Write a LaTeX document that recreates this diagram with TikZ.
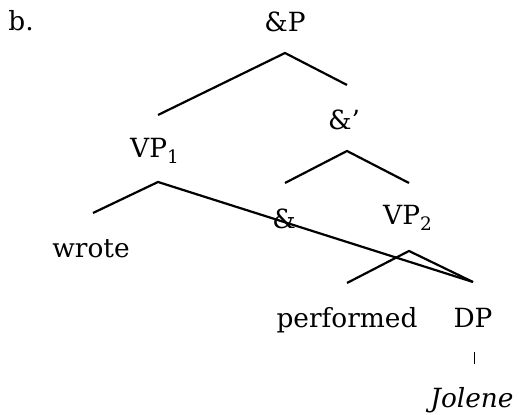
\documentclass[tikz,border=0pt]{standalone}
\usepackage{fontspec}
\setmainfont{DejaVu Serif}
\usepackage{tikz}

\begin{document}
\begin{tikzpicture}[x=0.5pt,y=0.5pt,
    lbl/.style={anchor=base,inner sep=0pt,font=\fontsize{13.2pt}{16pt}\selectfont},
    branch/.style={line width=1.1pt}]
  \useasboundingbox (0,0) rectangle (519,415);

  \node[lbl,anchor=base west] (ex) at (8,384) {b.};
  \node[lbl] (andP) at (285,383) {\&P};
  \node[lbl] (andbar) at (344,285) {\&’};
  \node[lbl] (vp1) at (155,257) {VP\textsubscript{1}};
  \node[lbl] (wrote) at (91,157) {wrote};
  \node[lbl] (and) at (284,186) {\&};
  \node[lbl] (vp2) at (408,190) {VP\textsubscript{2}};
  \node[lbl] (performed) at (347,87) {performed};
  \node[lbl] (dp) at (473,87) {DP};
  \node[lbl] (jolene) at (472,7) {\itshape Jolene};

  % fork points
  \coordinate (andP-top) at (285,362);
  \coordinate (andP-l) at (158,300);
  \coordinate (andP-r) at (347,330);
  \coordinate (andbar-top) at (347,264);
  \coordinate (andbar-l) at (285,232);
  \coordinate (andbar-r) at (409,232);
  \coordinate (vp1-top) at (158,233);
  \coordinate (vp1-l) at (93,202);
  \coordinate (vp2-top) at (409,164);
  \coordinate (vp2-l) at (347,132);
  \coordinate (dp-top) at (473,133);
  \coordinate (dp-bot) at (474,63);
  \coordinate (jolene-top) at (474,51);

  \draw[branch] (andP-l) -- (andP-top) -- (andP-r);
  \draw[branch] (andbar-l) -- (andbar-top) -- (andbar-r);
  \draw[branch] (vp1-l) -- (vp1-top) -- (dp-top);
  \draw[branch] (vp2-l) -- (vp2-top) -- (dp-top);
  \draw[line width=0.5pt] (dp-bot) -- (jolene-top);
\end{tikzpicture}
\end{document}
